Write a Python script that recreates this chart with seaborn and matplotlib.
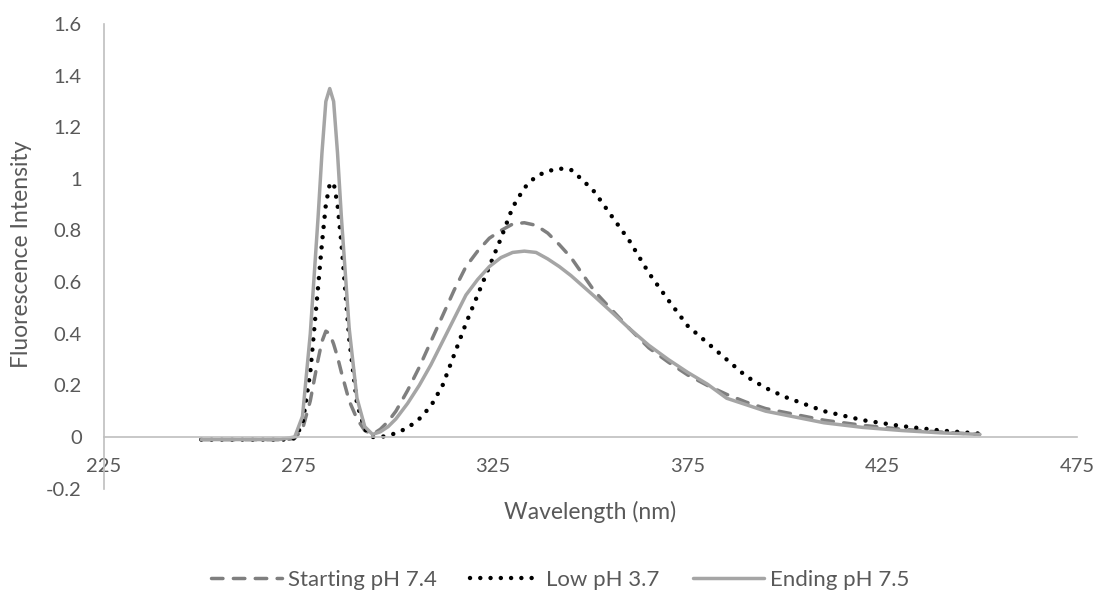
import matplotlib
matplotlib.use("Agg")
import matplotlib.pyplot as plt
import seaborn as sns
import pandas as pd

wavelength = [250, 255, 260, 265, 270, 272, 274, 276, 278, 280, 281, 282, 283, 284, 285, 286,
              288, 290, 292, 294, 296, 298, 300, 303, 306, 309, 312, 315, 318, 321, 324, 327,
              330, 333, 336, 339, 342, 345, 348, 351, 355, 360, 365, 370, 375, 380, 385, 390,
              395, 400, 410, 420, 430, 440, 450]

starting_ph74 = [-0.01, -0.01, -0.01, -0.01, -0.01, -0.01, -0.005, 0.03, 0.14, 0.30, 0.37, 0.41, 0.40, 0.36, 0.31, 0.25,
                 0.14, 0.07, 0.025, 0.01, 0.03, 0.06, 0.10, 0.18, 0.27, 0.37, 0.47, 0.57, 0.66, 0.72, 0.77, 0.80,
                 0.825, 0.83, 0.82, 0.79, 0.745, 0.695, 0.63, 0.565, 0.50, 0.42, 0.345, 0.29, 0.24, 0.20, 0.165, 0.135,
                 0.11, 0.095, 0.065, 0.045, 0.03, 0.019, 0.01]

low_ph37 = [-0.01, -0.01, -0.01, -0.01, -0.01, -0.01, -0.005, 0.05, 0.25, 0.58, 0.75, 0.90, 0.98, 0.985, 0.90, 0.75,
            0.38, 0.13, 0.03, 0.0, 0.0, 0.005, 0.015, 0.035, 0.07, 0.12, 0.20, 0.32, 0.44, 0.55, 0.66, 0.77,
            0.89, 0.965, 1.01, 1.03, 1.04, 1.035, 0.995, 0.95, 0.865, 0.76, 0.635, 0.53, 0.43, 0.365, 0.30, 0.235,
            0.19, 0.155, 0.10, 0.065, 0.042, 0.025, 0.013]

ending_ph75 = [-0.01, -0.01, -0.01, -0.01, -0.01, -0.005, 0.0, 0.08, 0.40, 0.85, 1.10, 1.30, 1.35, 1.30, 1.10, 0.85,
               0.42, 0.15, 0.04, 0.01, 0.02, 0.04, 0.07, 0.13, 0.20, 0.28, 0.37, 0.46, 0.55, 0.61, 0.66, 0.695,
               0.715, 0.72, 0.715, 0.69, 0.66, 0.625, 0.585, 0.545, 0.49, 0.42, 0.355, 0.30, 0.25, 0.205, 0.15, 0.125,
               0.10, 0.085, 0.055, 0.037, 0.025, 0.016, 0.01]

series_names = ["Starting pH 7.4", "Low pH 3.7", "Ending pH 7.5"]
x_ticks = [225, 275, 325, 375, 425, 475]
y_ticks = [-0.2, 0, 0.2, 0.4, 0.6, 0.8, 1, 1.2, 1.4, 1.6]
y_tick_labels = ["-0.2", "0", "0.2", "0.4", "0.6", "0.8", "1", "1.2", "1.4", "1.6"]

sns.set_theme(style="white")
plt.rcParams["font.family"] = ["Lato", "DejaVu Sans"]

df = pd.DataFrame({"wl": wavelength, series_names[0]: starting_ph74,
                   series_names[1]: low_ph37, series_names[2]: ending_ph75})

fig = plt.figure(figsize=(10.98, 5.94), dpi=100)
ax = fig.add_axes([104 / 1098, 1 - 488.6 / 594, (1077 - 104) / 1098, (488.6 - 24) / 594])

text_color = "#595959"
sns.lineplot(data=df, x="wl", y=series_names[0], ax=ax, color="#7F7F7F", linewidth=2.5,
             label=series_names[0])
sns.lineplot(data=df, x="wl", y=series_names[1], ax=ax, color="#000000", linewidth=3.2,
             label=series_names[1])
sns.lineplot(data=df, x="wl", y=series_names[2], ax=ax, color="#A5A5A5", linewidth=2.5,
             label=series_names[2])

lines = ax.get_lines()
lines[0].set_dashes((3.3, 3.0))
lines[0].set_dash_capstyle("round")
lines[1].set_dashes((0.01, 2.3))
lines[1].set_dash_capstyle("round")
lines[2].set_solid_capstyle("round")
lines[2].set_solid_joinstyle("round")

ax.set_xlim(225, 475)
ax.set_ylim(-0.2, 1.6)
ax.set_xticks(x_ticks)
ax.set_yticks(y_ticks)
ax.set_yticklabels(y_tick_labels)
ax.tick_params(axis="both", length=0, colors=text_color, labelsize=14.5)
ax.tick_params(axis="y", pad=16)
ax.tick_params(axis="x", pad=15)

for s in ["top", "right"]:
    ax.spines[s].set_visible(False)
ax.spines["bottom"].set_position(("data", 0))
ax.spines["bottom"].set_color("#BFBFBF")
ax.spines["left"].set_color("#BFBFBF")
ax.spines["bottom"].set_linewidth(1.2)
ax.spines["left"].set_linewidth(1.2)
ax.set_xlabel("")
ax.set_ylabel("")
ax.grid(False)

fig.text(590.5 / 1098, 1 - 512 / 594, "Wavelength (nm)", ha="center", va="center",
         fontsize=16.5, color=text_color)
fig.text(22 / 1098, 1 - 254 / 594, "Fluorescence Intensity", ha="center", va="center",
         rotation=90, fontsize=16.5, color=text_color)

ax.legend(loc="center", bbox_to_anchor=(560 / 1098, 1 - 580 / 594),
          bbox_transform=fig.transFigure, ncol=3, frameon=False, fontsize=16,
          handlelength=3.2, handletextpad=0.25, columnspacing=1.5, labelcolor=text_color,
          borderpad=0.2)

fig.savefig("out.png", dpi=100)
